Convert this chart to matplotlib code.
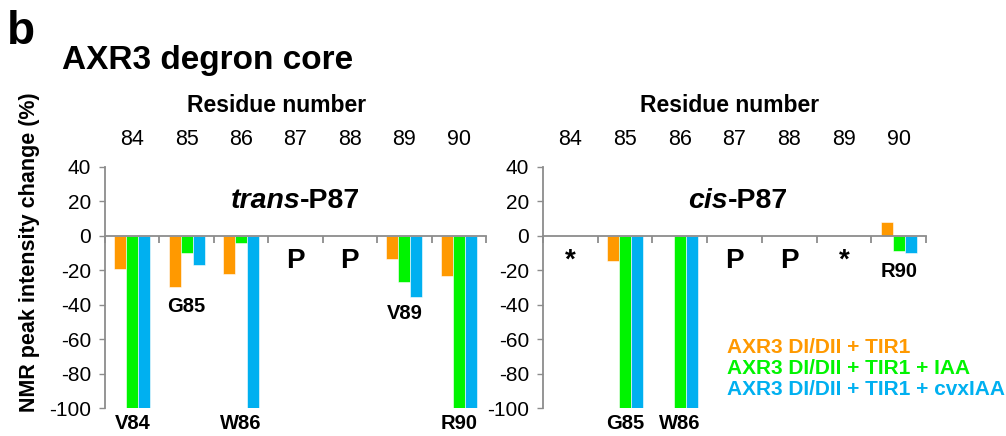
"""
AXR3 degron core: NMR peak intensity change per residue,
trans-P87 and cis-P87 panels side by side. Saves out.png.
"""

import numpy as np
import matplotlib
matplotlib.use("Agg")
import matplotlib.pyplot as plt
from matplotlib.transforms import blended_transform_factory

plt.rcParams["font.family"] = ["Liberation Sans", "DejaVu Sans"]
plt.rcParams["axes.unicode_minus"] = False

# data
residues = ["84", "85", "86", "87", "88", "89", "90"]
series_names = [
    "AXR3 DI/DII + TIR1",
    "AXR3 DI/DII + TIR1 + IAA",
    "AXR3 DI/DII + TIR1 + cvxIAA",
]
series_colors = ["#FF9900", "#00F400", "#00B0F0"]

nan = np.nan
trans_tir1 = [-19.5, -29.5, -22.0, nan, nan, -13.4, -23.3]
trans_iaa = [-100, -10.0, -3.9, nan, nan, -27.0, -100]
trans_cvx = [-100, -17.2, -100, nan, nan, -35.3, -100]

cis_tir1 = [nan, -14.5, nan, nan, nan, nan, 8.0]
cis_iaa = [nan, -100, -100, nan, nan, nan, -9.0]
cis_cvx = [nan, -100, -100, nan, nan, nan, -10.0]

# residue labels: (category index, y position in data units, text)
trans_labels = [(0, -109, "V84"), (1, -41, "G85"), (2, -109, "W86"),
                (5, -45, "V89"), (6, -109, "R90")]
cis_labels = [(1, -109, "G85"), (2, -109, "W86"), (6, -20.5, "R90")]

trans_marks = [(3, "P"), (4, "P")]
cis_marks = [(0, "*"), (3, "P"), (4, "P"), (5, "*")]

AXIS_GRAY = "#8C8C8C"


def draw_panel(ax, values, labels, marks, isomer, isomer_x, header_x):
    x = np.arange(len(residues))
    width = 0.22
    for k, (vals, color) in enumerate(zip(values, series_colors)):
        ax.bar(x + (k - 1) * width, vals, width=width, color=color,
               edgecolor="white", linewidth=0.4)

    ax.set_xlim(-0.5, len(residues) - 0.5)
    ax.set_ylim(-100, 40)
    ax.set_yticks(np.arange(-100, 41, 20))
    ax.tick_params(axis="y", direction="out", length=4, width=1,
                   color=AXIS_GRAY, labelsize=15, pad=6)

    # zero line acts as the category axis, ticks on the boundaries
    for s in ["top", "right"]:
        ax.spines[s].set_visible(False)
    ax.spines["bottom"].set_position(("data", 0))
    ax.spines["bottom"].set_color(AXIS_GRAY)
    ax.spines["bottom"].set_linewidth(1.3)
    ax.spines["left"].set_color(AXIS_GRAY)
    ax.spines["left"].set_linewidth(1.3)
    ax.set_xticks(np.arange(len(residues) + 1) - 0.5)
    ax.set_xticklabels([])
    ax.tick_params(axis="x", direction="out", length=5, width=1.3,
                   color=AXIS_GRAY)

    # residue numbers on top
    top = ax.secondary_xaxis("top")
    top.set_xticks(x, labels=residues)
    top.tick_params(length=0, labelsize=15.5, pad=12)
    top.spines["top"].set_visible(False)

    ax.text(header_x, 1.255, "Residue number", transform=ax.transAxes,
            ha="center", va="center", fontsize=16.5, fontweight="bold")

    # "trans-P87" / "cis-P87": italic prefix + upright rest, joined at isomer_x
    trans = blended_transform_factory(ax.transAxes, ax.transData)
    ax.text(isomer_x, 16, isomer, transform=trans, ha="right",
            va="baseline", fontsize=20.5, fontweight="bold", style="italic")
    ax.text(isomer_x, 16, "-P87", transform=trans, ha="left",
            va="baseline", fontsize=20.5, fontweight="bold")

    for i, y, txt in labels:
        ax.text(x[i], y, txt, ha="center", va="center", fontsize=14.5,
                fontweight="bold")
    for i, txt in marks:
        ax.text(x[i], -14.5, txt, ha="center", va="center",
                fontsize=20, fontweight="bold")


def main():
    fig = plt.figure(figsize=(10.06, 4.36), dpi=100)
    ax_trans = fig.add_axes([0.1044, 0.0642, 0.3787, 0.5528])
    ax_cis = fig.add_axes([0.5398, 0.0642, 0.3807, 0.5528])

    draw_panel(ax_trans, [trans_tir1, trans_iaa, trans_cvx],
               trans_labels, trans_marks, "trans", 0.512, 0.451)
    draw_panel(ax_cis, [cis_tir1, cis_iaa, cis_cvx],
               cis_labels, cis_marks, "cis", 0.483, 0.488)

    # coloured text legend
    for k, (name, color) in enumerate(zip(series_names, series_colors)):
        ax_cis.text(0.48, 0.249 - k * 0.087, name, transform=ax_cis.transAxes,
                    ha="left", va="center", fontsize=15, fontweight="bold",
                    color=color)

    fig.text(30 / 1006, 1 - 252 / 436, "NMR peak intensity change (%)",
             rotation=90, ha="center", va="center", fontsize=15.5,
             fontweight="bold")
    fig.text(62 / 1006, 1 - 61 / 436, "AXR3 degron core", ha="left",
             va="center", fontsize=24, fontweight="bold")
    fig.text(7 / 1006, 1 - 32 / 436, "b", ha="left", va="center",
             fontsize=33, fontweight="bold")

    fig.savefig("out.png", dpi=100)
    plt.close(fig)


if __name__ == "__main__":
    main()
